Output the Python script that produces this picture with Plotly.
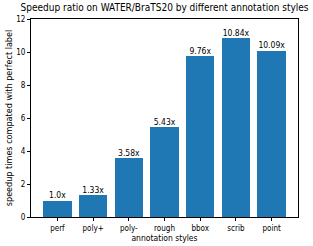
import plotly.graph_objects as go

categories = ["perf", "poly+", "poly-", "rough", "bbox", "scrib", "point"]
values = [1.0, 1.33, 3.58, 5.43, 9.76, 10.84, 10.09]
labels = ["1.0x", "1.33x", "3.58x", "5.43x", "9.76x", "10.84x", "10.09x"]
yticks = [0, 2, 4, 6, 8, 10, 12]
title = "Speedup ratio on WATER/BraTS20 by different annotation styles"

FONT = "DejaVu Sans Condensed, DejaVu Sans"
xpos = list(range(len(categories)))
fig = go.Figure()
fig.add_trace(go.Bar(
    x=xpos, y=values, width=0.8,
    marker=dict(color="#1f77b4", line=dict(width=0)),
))
fig.add_trace(go.Scatter(
    x=xpos, y=values, mode="text", text=labels, textposition="top center",
    textfont=dict(size=8.5, color="black"), cliponaxis=False, hoverinfo="skip",
))
fig.update_layout(
    width=313, height=246,
    margin=dict(l=31, r=15, t=19, b=29, autoexpand=False),
    paper_bgcolor="white", plot_bgcolor="white",
    font=dict(family=FONT, size=8, color="black"),
    title=dict(text=title, xref="paper", x=0.5, xanchor="center",
               yref="container", y=0.985, yanchor="top", font=dict(size=10)),
    showlegend=False,
    bargap=0,
)
fig.update_xaxes(
    range=[-0.74, 6.74], tickvals=xpos, ticktext=categories, automargin=False,
    showline=True, linecolor="black", linewidth=1, mirror=True,
    ticks="outside", ticklen=3, tickcolor="black", showgrid=False, zeroline=False,
    title=dict(text="annotation styles", font=dict(size=8.5), standoff=2),
)
fig.update_yaxes(
    range=[0, 12], tickvals=yticks, automargin=False,
    showline=True, linecolor="black", linewidth=1, mirror=True,
    ticks="outside", ticklen=3, tickcolor="black", showgrid=False, zeroline=False,
    title=dict(text="speedup times compated with perfect label", font=dict(size=9), standoff=2),
)
fig.write_html(
    "out.html",
    config={"displayModeBar": False},
    post_script="document.body.style.margin='0';document.documentElement.style.overflow='hidden';",
)
